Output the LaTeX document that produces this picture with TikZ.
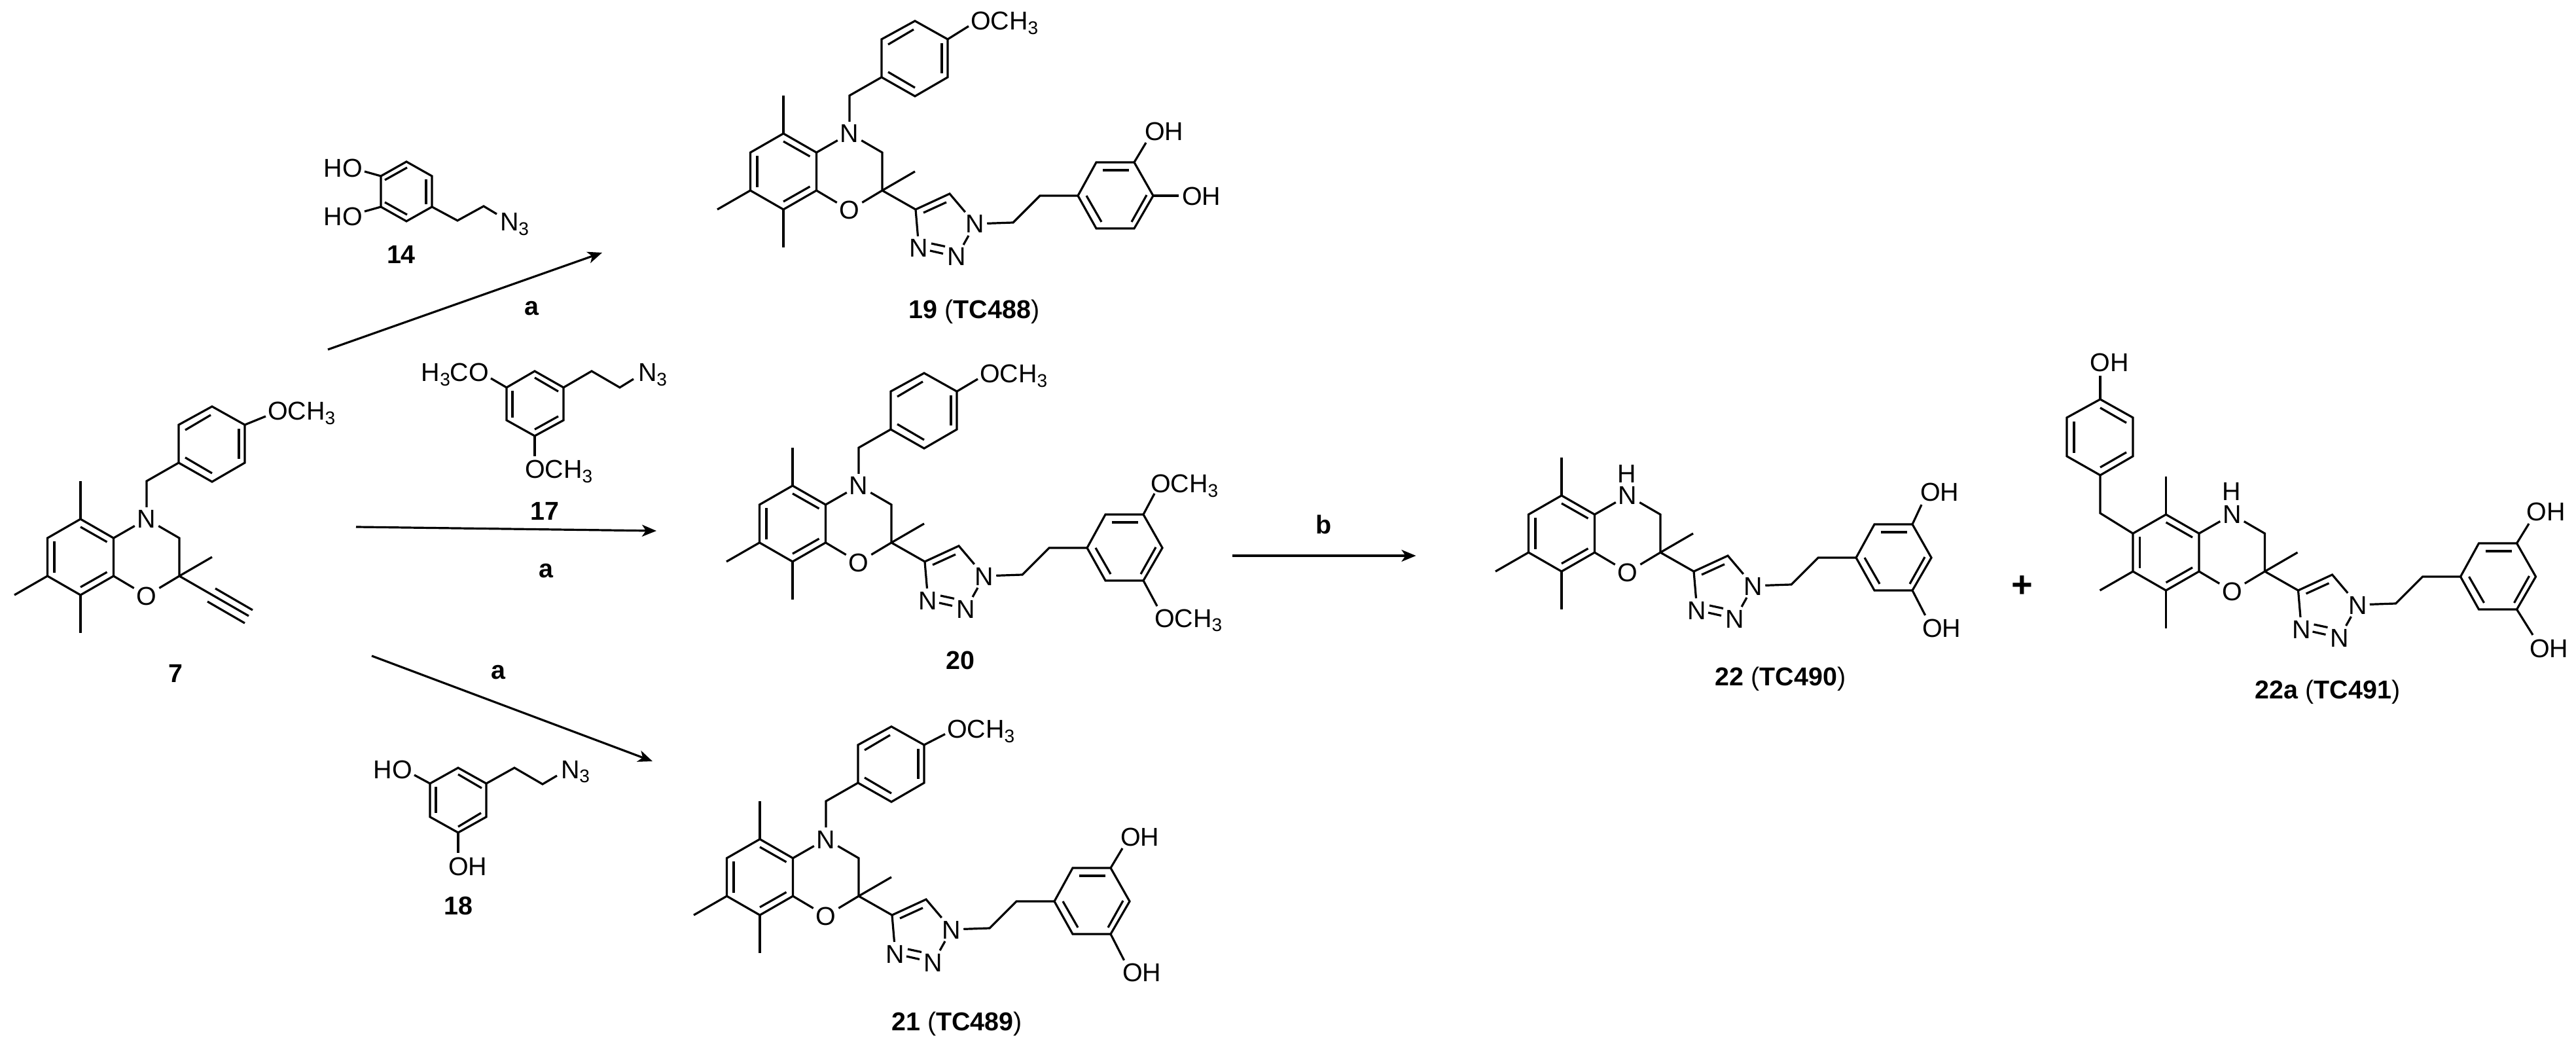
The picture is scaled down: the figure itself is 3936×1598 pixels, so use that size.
\documentclass[tikz,border=0pt]{standalone}
\usepackage{fontspec}
\setmainfont{Liberation Sans}
\usetikzlibrary{arrows.meta}

\newcommand{\tri}{\raisebox{-3.4pt}{\fontsize{14}{14}\selectfont 3}}

% fused ring system, origin on the top ring atom
\newcommand{\core}{
    \node[atom] (n) at (101,0) {N};
    \node[atom] (o) at (101,117) {O};
    \draw[bond] (0,0) -- (50.5,29) -- (50.5,87) -- (0,116) -- (-50.5,87) -- (-50.5,29) -- cycle;
    \draw[bond] (0,12) -- (40.5,35);
    \draw[bond] (0,104) -- (40.5,81);
    \draw[bond] (-40,34) -- (-40,82);
    \draw[bond] (50.5,29) -- (n);
    \draw[bond] (n) -- (151,29) -- (151,87) -- (o);
    \draw[bond] (50.5,87) -- (o);
    \draw[bond] (151,87) -- (201,58);
    \draw[bond] (0,0) -- (0,-58);
    \draw[bond] (0,116) -- (0,174);
    \draw[bond] (-50.5,87) -- (-101,116);
}

% p-methoxybenzyl on the ring nitrogen, #1 is the height of its label
\newcommand{\pmb}[1]{
    \node[grp] (ome) at (286,#1) {OCH\tri};
    \draw[bond] (n) -- (101,-58) -- (150,-86);
    \draw[bond] (150,-86) -- (201,-57) -- (251,-86) -- (251,-144) -- (201,-172) -- (150,-144) -- cycle;
    \draw[bond] (160,-136) -- (199,-159);
    \draw[bond] (242,-138) -- (242,-92);
    \draw[bond] (160,-94) -- (201,-70);
    \draw[bond] (251,-144) -- (283,#1+8);
}

% triazole, ethylene link and aryl ring
\newcommand{\tail}{
    \node[atom] (na) at (293,138) {N};
    \node[atom] (nc) at (207,175) {N};
    \node[atom] (nb) at (265,188) {N};
    \draw[bond] (151,87) -- (202,116) -- (254,92) -- (na);
    \draw[bond] (202,116) -- (nc);
    \draw[bond] (na) -- (nb);
    \draw[bond] (214,121) -- (249,105);
    \draw[bond] (226,168) -- (247,172.5);
    \draw[bond] (224,179) -- (244,183.5);
    \draw[bond] (na) -- (351,136) -- (392,95) -- (450,95);
    \draw[bond] (450,95) -- (478,44) -- (536,44) -- (565,95) -- (536,145) -- (478,145) -- cycle;
    \draw[bond] (488,56) -- (528,56);
    \draw[bond] (555,94) -- (532,135);
    \draw[bond] (463,95) -- (486,135);
}

\begin{document}
\begin{tikzpicture}[
    x=.5pt,y=-.5pt,
    bond/.style={line width=1.6pt},
    rxn/.style={line width=1.6pt,-{Stealth[length=11pt,width=9pt,inset=3pt]}},
    atom/.style={font=\fontsize{19.7}{20}\selectfont,inner sep=0pt,outer sep=2pt,text height=14pt,text depth=0pt},
    grp/.style={atom,outer sep=0pt,anchor=west},
    pgr/.style={atom,outer sep=0pt,anchor=east},
    lab/.style={font=\fontsize{19.7}{20}\selectfont\bfseries,inner sep=0pt,text height=14pt,text depth=0pt}
    ]
    \useasboundingbox (0,0) rectangle (3936,1598);

    % 7
    \begin{scope}[shift={(123,793)},name prefix=c7-]
      \core
      \pmb{-165}
      \draw[bond] (151,87) -- (257,148);
      \draw[bond] (206,106) -- (263,139);
      \draw[bond] (194,126) -- (251,159);
    \end{scope}
    \node[lab] (lab7) at (268,1028) {7};

    % 14
    \node[pgr] (ho14a) at (554,257) {HO};
    \node[pgr] (ho14b) at (554,331) {HO};
    \node[grp] (az14) at (764,339) {N\tri};
    \draw[bond] (621,247) -- (660,269) -- (660,316) -- (621,338) -- (582,316) -- (582,269) -- cycle;
    \draw[bond] (588,275) -- (622,256);
    \draw[bond] (651,274) -- (651,312);
    \draw[bond] (588,309) -- (622,328);
    \draw[bond] (582,269) -- (557,262);
    \draw[bond] (582,316) -- (557,323);
    \draw[bond] (660,316) -- (699,337) -- (739,315) -- (759,327);
    \node[lab] (lab14) at (613,389) {14};

    % 17
    \node[pgr] (ome17a) at (747,569) {H\tri CO};
    \node[grp] (ome17b) at (802,717) {OCH\tri};
    \node[grp] (az17) at (975,569) {N\tri};
    \draw[bond] (817,567) -- (861,592) -- (861,642) -- (817,666) -- (774,642) -- (774,592) -- cycle;
    \draw[bond] (817,577) -- (853,598);
    \draw[bond] (783,597) -- (783,638);
    \draw[bond] (817,656) -- (853,636);
    \draw[bond] (774,592) -- (750,578);
    \draw[bond] (817,666) -- (817,697);
    \draw[bond] (861,592) -- (904,567) -- (947,592) -- (968,579);
    \node[lab] (lab17) at (832,781) {17};

    % 18
    \node[pgr] (ho18a) at (630,1175) {HO};
    \node[grp] (ho18b) at (685,1323) {OH};
    \node[grp] (az18) at (857,1175) {N\tri};
    \draw[bond] (700,1173) -- (743,1197) -- (743,1248) -- (700,1272) -- (657,1248) -- (657,1197) -- cycle;
    \draw[bond] (700,1183) -- (736,1204);
    \draw[bond] (666,1202) -- (666,1242);
    \draw[bond] (700,1263) -- (735,1242);
    \draw[bond] (657,1197) -- (633,1184);
    \draw[bond] (700,1272) -- (700,1303);
    \draw[bond] (743,1197) -- (786,1173) -- (829,1198) -- (851,1185);
    \node[lab] (lab18) at (700,1383) {18};

    % 19
    \begin{scope}[shift={(1197,204)},name prefix=c19-]
      \core
      \pmb{-172}
      \tail
      \node[grp] (oha) at (552,-3) {OH};
      \node[grp] (ohb) at (609,96) {OH};
      \draw[bond] (536,44) -- (554,14);
      \draw[bond] (565,95) -- (604,95);
    \end{scope}
    \node[lab] (lab19) at (1488.5,473) {19 \textmd{(}TC488\textmd{)}};

    % 20
    \begin{scope}[shift={(1211,742)},name prefix=c20-]
      \core
      \pmb{-171}
      \tail
      \node[grp] (omea) at (547,-3) {OCH\tri};
      \node[grp] (omeb) at (553,202) {OCH\tri};
      \draw[bond] (536,44) -- (553,12);
      \draw[bond] (536,145) -- (557,184);
    \end{scope}
    \node[lab] (lab20) at (1467,1008) {20};

    % 21
    \begin{scope}[shift={(1161,1282)},name prefix=c21-]
      \core
      \pmb{-168.5}
      \tail
      \node[grp] (oha) at (551,-4) {OH};
      \node[grp] (ohb) at (554,203) {OH};
      \draw[bond] (536,44) -- (554,14);
      \draw[bond] (536,145) -- (556.5,185);
    \end{scope}
    \node[lab] (lab21) at (1462,1560) {21 \textmd{(}TC489\textmd{)}};

    % 22
    \begin{scope}[shift={(2386,757)},name prefix=c22-]
      \core
      \tail
      \node[atom] (h) at (100,-33) {H};
      \node[grp] (oha) at (548,-5) {OH};
      \node[grp] (ohb) at (551,202) {OH};
      \draw[bond] (536,44) -- (550,14);
      \draw[bond] (536,145) -- (555.6,183);
    \end{scope}
    \node[lab] (lab22) at (2720.5,1033) {22 \textmd{(}TC490\textmd{)}};

    % 22a
    \begin{scope}[shift={(3309.5,786)},name prefix=c22a-]
      \core
      \tail
      \node[atom] (h) at (100,-35) {H};
      \node[grp] (oha) at (551,-4) {OH};
      \node[grp] (ohb) at (555.5,204) {OH};
      \draw[bond] (536,44) -- (554.5,14);
      \draw[bond] (536,145) -- (560.5,184);
      % phenol on the free ring position
      \node[grp] (ohc) at (-116,-232) {OH};
      \draw[bond] (-50.5,29) -- (-100.5,-2) -- (-100.5,-60);
      \draw[bond] (-100.5,-60) -- (-50.5,-89) -- (-50.5,-148) -- (-100.5,-176) -- (-151.5,-148) -- (-151.5,-89) -- cycle;
      \draw[bond] (-100.5,-163) -- (-60.5,-140);
      \draw[bond] (-140.5,-142) -- (-140.5,-94);
      \draw[bond] (-100.5,-72) -- (-60.5,-95);
      \draw[bond] (-100.5,-176) -- (-100.5,-212);
    \end{scope}
    \node[lab] (lab22a) at (3556.5,1053.5) {22a \textmd{(}TC491\textmd{)}};

    % arrows
    \coordinate (ra1) at (501,534);
    \coordinate (ra2) at (920,386);
    \coordinate (rb1) at (544,805);
    \coordinate (rb2) at (1003,811);
    \coordinate (rc1) at (568,1002);
    \coordinate (rc2) at (997,1163);
    \coordinate (rd1) at (1883,849);
    \coordinate (rd2) at (2163.5,849);
    \draw[rxn] (ra1) -- (ra2);
    \draw[rxn] (rb1) -- (rb2);
    \draw[rxn] (rc1) -- (rc2);
    \draw[rxn] (rd1) -- (rd2);
    \node[lab] (laba) at (812,468) {a};
    \node[lab] (labb) at (834,868) {a};
    \node[lab] (labc) at (761,1023) {a};
    \node[lab] (labd) at (2023,802) {b};
    \node[lab,font=\fontsize{28}{28}\selectfont\bfseries] (plus) at (3090,899) {+};
\end{tikzpicture}
\end{document}
